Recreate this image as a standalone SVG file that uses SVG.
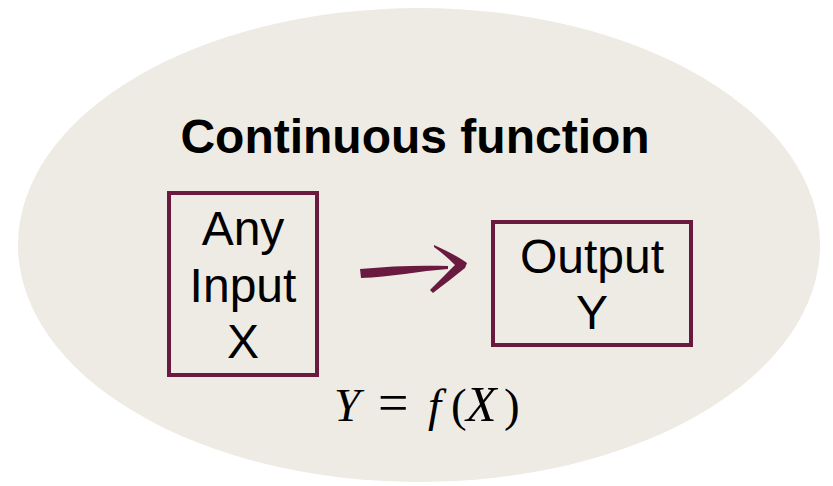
<svg xmlns="http://www.w3.org/2000/svg" width="833" height="486" viewBox="0 0 833 486">
<style>
.box{fill:none;stroke:#6B1A3F;stroke-width:4}
.t{font-family:"Liberation Sans",Arial,sans-serif;font-size:48px;fill:#000;text-anchor:middle}
.title{font-family:"Liberation Sans",Arial,sans-serif;font-size:48px;font-weight:bold;fill:#000;text-anchor:middle}
.eq{font-family:"Liberation Serif","Times New Roman",serif;font-size:47px;fill:#000}
</style>
<rect width="833" height="486" fill="#fff"/>
<ellipse cx="419" cy="245" rx="401" ry="237" fill="#EEEBE4"/>
<text class="title" x="415" y="153">Continuous function</text>
<g id="input">
<rect class="box" x="169" y="193" width="148" height="182"/>
<text class="t" x="243" y="245">Any</text>
<text class="t" x="243" y="302">Input</text>
<text class="t" x="243" y="358">X</text>
</g>
<g id="output">
<rect class="box" x="493" y="222" width="198" height="123"/>
<text class="t" x="592" y="273">Output</text>
<text class="t" x="592" y="329">Y</text>
</g>
<g id="connectors">
<path d="M360,269 C390,266 420,265 448,266 L448,269 C420,271 390,277 361,278 Z" fill="#6B1A3F"/>
<path d="M434,245 C447,251 459,257 467,263 L465,268 C454,277 443,285 433,293 L430,290 C439,281 448,272 455,265 C448,258 441,252 434,247 Z" fill="#6B1A3F"/>
</g>
<text class="eq" y="421"><tspan x="334" font-style="italic">Y</tspan><tspan x="378" font-size="54">=</tspan><tspan x="428" font-style="italic">f</tspan><tspan x="451">(</tspan><tspan x="466" font-style="italic" font-size="50">X</tspan><tspan x="504">)</tspan></text>
</svg>
